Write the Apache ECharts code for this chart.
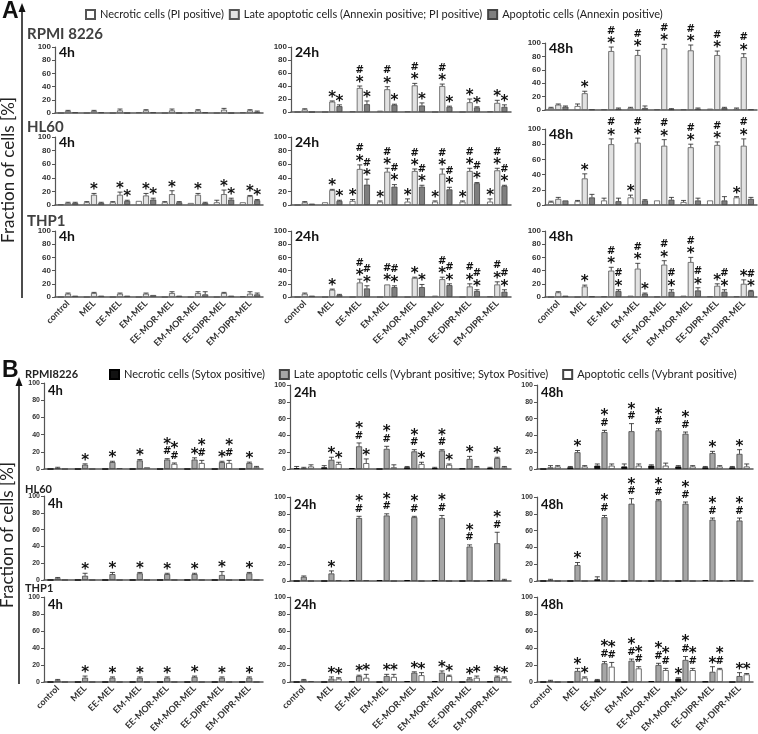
<!DOCTYPE html>
<html>
<head>
<meta charset="utf-8">
<script src="https://cdn.jsdelivr.net/npm/echarts@6/dist/echarts.min.js"></script>
<style>
html, body { margin: 0; padding: 0; background: #fff; }
#chart { width: 758px; height: 734px; }
</style>
</head>
<body>
<div id="chart"></div>
<script>
var categories = ['control', 'MEL', 'EE-MEL', 'EM-MEL', 'EE-MOR-MEL', 'EM-MOR-MEL', 'EE-DIPR-MEL', 'EM-DIPR-MEL'];
var times = ['4h', '24h', '48h'];
var cellLinesA = ['RPMI 8226', 'HL60', 'THP1'];
var cellLinesB = ['RPMI8226', 'HL60', 'THP1'];
var namesA = ['Necrotic cells (PI positive)', 'Late apoptotic cells (Annexin positive; PI positive)', 'Apoptotic cells (Annexin positive)'];
var namesB = ['Necrotic cells (Sytox positive)', 'Late apoptotic cells (Vybrant positive; Sytox Positive)', 'Apoptotic cells (Vybrant positive)'];
var ZERO = [0, 0, 0, 0, 0, 0, 0, 0];
var NO_SIG = ['', '', '', '', '', '', '', ''];

// each panel: [necrotic, late apoptotic, apoptotic]; sig strings read top to bottom
// panel A (Annexin / PI)
var A_RPMI_4h = [[0, 0, 0, 1, 0, 1, 0, 1], [3, 3, 4, 4, 4, 4, 5, 4], [1, 1, 0, 1, 0, 1, 0, 2]];
var A_RPMI_4h_err = [ZERO, [1, 1, 2, 1, 2, 1, 2, 1], [0, 0, 0, 0, 0, 0, 0, 1]];
var A_RPMI_4h_sig = [NO_SIG, NO_SIG, NO_SIG];

var A_RPMI_24h = [[0, 0, 1, 2, 1, 0, 0, 1], [4, 16, 37, 35, 41, 40, 15, 14], [0, 9, 12, 11, 10, 8, 7, 8]];
var A_RPMI_24h_err = [ZERO, [1, 1, 3, 4, 3, 3, 5, 4], [0, 2, 5, 1, 4, 1, 1, 3]];
var A_RPMI_24h_sig = [NO_SIG, ['', '*', '#*', '#*', '#*', '#*', '*', '*'], ['', '*', '*', '*', '*', '*', '*', '*']];

var A_RPMI_48h = [[3, 6, 1, 3, 1, 1, 2, 2], [8, 25, 88, 82, 92, 89, 82, 79], [5, 1, 2, 3, 1, 2, 3, 1]];
var A_RPMI_48h_err = [[1, 3, 0, 1, 0, 0, 0, 1], [1, 3, 6, 7, 6, 8, 6, 5], [1, 0, 1, 3, 1, 1, 1, 0]];
var A_RPMI_48h_sig = [NO_SIG, ['', '*', '#*', '#*', '#*', '#*', '#*', '#*'], NO_SIG];

var A_HL60_4h = [[1, 4, 4, 6, 4, 3, 4, 4], [3, 15, 15, 14, 16, 15, 16, 13], [3, 3, 6, 8, 4, 3, 8, 7]];
var A_HL60_4h_err = [[0, 1, 1, 0, 1, 0, 3, 0], [1, 2, 4, 3, 5, 2, 6, 1], [1, 1, 1, 2, 1, 1, 2, 1]];
var A_HL60_4h_sig = [NO_SIG, ['', '*', '*', '*', '*', '*', '*', '*'], ['', '', '*', '*', '', '', '*', '*']];

var A_HL60_24h = [[0, 4, 6, 5, 5, 5, 5, 5], [4, 22, 53, 49, 50, 46, 50, 51], [2, 6, 30, 27, 27, 23, 32, 28]];
var A_HL60_24h_err = [[0, 0, 2, 1, 4, 1, 1, 4], [1, 1, 6, 5, 3, 7, 4, 3], [0, 1, 8, 3, 2, 3, 1, 1]];
var A_HL60_24h_sig = [['', '', '*', '*', '*', '*', '*', '*'], ['', '*', '#*', '#*', '#*', '#*', '#*', '#*'], ['', '*', '#*', '#*', '#*', '#*', '#*', '#*']];

var A_HL60_48h = [[4, 5, 6, 10, 6, 4, 6, 10], [8, 35, 80, 82, 78, 76, 79, 78], [6, 10, 5, 6, 7, 6, 6, 8]];
var A_HL60_48h_err = [[1, 1, 3, 3, 0, 2, 0, 1], [2, 6, 7, 6, 8, 4, 4, 9], [0, 4, 4, 1, 3, 3, 5, 2]];
var A_HL60_48h_sig = [['', '', '', '*', '', '', '', '*'], ['', '*', '#*', '#*', '#*', '#*', '#*', '#*'], NO_SIG];

var A_THP1_4h = [[0, 0, 0, 0, 0, 0, 0, 1], [5, 6, 5, 5, 6, 6, 6, 5], [2, 2, 2, 3, 2, 4, 2, 4]];
var A_THP1_4h_err = [ZERO, [1, 1, 1, 1, 2, 2, 1, 3], [0, 0, 0, 0, 0, 4, 0, 2]];
var A_THP1_4h_sig = [NO_SIG, NO_SIG, NO_SIG];

var A_THP1_24h = [[0, 0, 0, 0, 0, 2, 0, 1], [5, 11, 22, 19, 29, 27, 16, 19], [2, 3, 13, 15, 15, 18, 9, 8]];
var A_THP1_24h_err = [ZERO, [1, 1, 5, 0, 1, 3, 4, 4], [0, 1, 4, 2, 4, 2, 2, 3]];
var A_THP1_24h_sig = [NO_SIG, ['', '*', '#*', '#*', '*', '#*', '#*', '#*'], ['', '', '#*', '#*', '*', '#*', '#*', '#*']];

var A_THP1_48h = [[0, 0, 1, 2, 0.5, 2, 1, 1], [7, 16, 40, 43, 49, 53, 17, 20], [2, 1, 9, 5, 8, 10, 8, 9]];
var A_THP1_48h_err = [ZERO, [1, 2, 5, 8, 6, 7, 3, 6], [0, 0, 2, 1, 3, 4, 3, 1]];
var A_THP1_48h_sig = [NO_SIG, ['', '*', '#*', '#*', '#*', '#*', '*', '*'], ['', '', '#*', '*', '#*', '#*', '#*', '#*']];

// panel B (Sytox / Vybrant)
var B_RPMI_4h = [ZERO, [1, 5, 8, 10, 11, 11, 8, 7], [0, 0, 1, 2, 6, 7, 7, 2]];
var B_RPMI_4h_err = [ZERO, [1, 1, 1, 1, 1, 2, 1, 1], [0, 0, 0, 0, 1, 3, 3, 1]];
var B_RPMI_4h_sig = [NO_SIG, ['', '*', '*', '*', '*#', '*', '*', '*'], ['', '', '', '', '*#', '*#', '*#', '']];

var B_RPMI_24h = [[1, 2, 1, 0, 2, 1, 0.5, 1], [1, 11, 27, 24, 21, 22, 12, 13], [3, 6, 7, 2, 6, 5, 2, 2]];
var B_RPMI_24h_err = [[2, 2, 0, 0, 1, 1, 0, 1], [1, 3, 4, 3, 2, 1, 3, 1], [2, 2, 5, 3, 2, 1, 1, 1]];
var B_RPMI_24h_sig = [NO_SIG, ['', '*', '*#', '*#', '*#', '*#', '*', '*'], ['', '*', '*', '', '*', '*', '', '']];

var B_RPMI_48h = [[0, 2, 4, 3, 4, 3, 2, 2], [2, 20, 44, 45, 46, 42, 19, 18], [3, 3, 4, 4, 4, 3, 3, 3]];
var B_RPMI_48h_err = [[0, 1, 2, 3, 1, 1, 1, 1], [2, 2, 2, 9, 2, 2, 2, 5], [1, 1, 2, 2, 3, 1, 1, 3]];
var B_RPMI_48h_sig = [NO_SIG, ['', '*', '*#', '*#', '*#', '*#', '*', '*'], NO_SIG];

var B_HL60_4h = [ZERO, [2, 5, 7, 8, 7, 7, 6, 8], ZERO];
var B_HL60_4h_err = [ZERO, [1, 3, 2, 1, 1, 1, 4, 1], ZERO];
var B_HL60_4h_sig = [NO_SIG, ['', '*', '*', '*', '*', '*', '*', '*'], NO_SIG];

var B_HL60_24h = [[0, 0, 1, 1, 1, 1, 0, 1], [5, 9, 75, 78, 76, 75, 41, 45], [0, 1, 1, 0, 0, 0, 0, 1]];
var B_HL60_24h_err = [ZERO, [1, 3, 2, 2, 1, 3, 2, 13], [0, 0, 0, 0, 0, 0, 0, 1]];
var B_HL60_24h_sig = [NO_SIG, ['', '*', '*#', '*#', '*#', '*#', '*#', '*#'], NO_SIG];

var B_HL60_48h = [[0, 0, 2, 0, 0, 0, 1, 1], [1, 19, 76, 92, 96, 92, 73, 72], ZERO];
var B_HL60_48h_err = [[0, 0, 3, 0, 0, 0, 0, 0], [1, 3, 2, 6, 1, 2, 2, 3], ZERO];
var B_HL60_48h_sig = [NO_SIG, ['', '*', '*#', '*#', '*#', '*#', '*#', '*#'], NO_SIG];

var B_THP1_4h = [ZERO, [2, 5, 5, 5, 5, 6, 5, 5], ZERO];
var B_THP1_4h_err = [ZERO, [1, 2, 1, 1, 1, 1, 1, 1], ZERO];
var B_THP1_4h_sig = [NO_SIG, ['', '*', '*', '*', '*', '*', '*', '*'], NO_SIG];

var B_THP1_24h = [[0, 0, 0.5, 0, 1, 1, 0, 0.5], [2, 4, 7, 7, 11, 11, 4, 6], [1, 4, 5, 6, 8, 7, 5, 5]];
var B_THP1_24h_err = [ZERO, [1, 2, 1, 2, 1, 2, 1, 1], [0, 1, 4, 3, 3, 1, 2, 1]];
var B_THP1_24h_sig = [NO_SIG, ['', '*', '*', '*', '*', '*', '*', '*'], ['', '*', '*', '*', '*', '*', '*', '*']];

var B_THP1_48h = [[0, 0, 2, 0, 1, 4, 0.5, 0], [1, 13, 22, 25, 20, 26, 12, 7], [0, 5, 18, 16, 14, 14, 15, 9]];
var B_THP1_48h_err = [[0, 0, 1, 0, 0, 1, 0, 0], [1, 3, 2, 2, 2, 4, 6, 4], [0, 1, 5, 2, 2, 2, 1, 1]];
var B_THP1_48h_sig = [['', '', '', '', '', '*', '', ''], ['', '*', '*#', '*#', '*#', '*#', '*', '*'], ['', '*', '*#', '*#', '*#', '*#', '*#', '*']];

var panelsA = [
    [[A_RPMI_4h, A_RPMI_4h_err, A_RPMI_4h_sig], [A_RPMI_24h, A_RPMI_24h_err, A_RPMI_24h_sig], [A_RPMI_48h, A_RPMI_48h_err, A_RPMI_48h_sig]],
    [[A_HL60_4h, A_HL60_4h_err, A_HL60_4h_sig], [A_HL60_24h, A_HL60_24h_err, A_HL60_24h_sig], [A_HL60_48h, A_HL60_48h_err, A_HL60_48h_sig]],
    [[A_THP1_4h, A_THP1_4h_err, A_THP1_4h_sig], [A_THP1_24h, A_THP1_24h_err, A_THP1_24h_sig], [A_THP1_48h, A_THP1_48h_err, A_THP1_48h_sig]]
];
var panelsB = [
    [[B_RPMI_4h, B_RPMI_4h_err, B_RPMI_4h_sig], [B_RPMI_24h, B_RPMI_24h_err, B_RPMI_24h_sig], [B_RPMI_48h, B_RPMI_48h_err, B_RPMI_48h_sig]],
    [[B_HL60_4h, B_HL60_4h_err, B_HL60_4h_sig], [B_HL60_24h, B_HL60_24h_err, B_HL60_24h_sig], [B_HL60_48h, B_HL60_48h_err, B_HL60_48h_sig]],
    [[B_THP1_4h, B_THP1_4h_err, B_THP1_4h_sig], [B_THP1_24h, B_THP1_24h_err, B_THP1_24h_sig], [B_THP1_48h, B_THP1_48h_err, B_THP1_48h_sig]]
];

// layout (pixels): column x-extent, row y-extent (value 100 -> value 0)
var colsA = [[55, 263], [291, 511], [545, 757]];
var rowsA = [[[47, 113], [47, 112], [43, 110]], [[137, 205], [137, 205], [129, 205]], [[231, 297], [231, 297], [231, 297]]];
var colsB = [[44, 263], [290, 511], [537, 753]];
var rowsB = [[[383, 469], [385, 469], [385, 469]], [[496, 580], [497, 581], [497, 581]], [[597, 682], [597, 682], [597, 682]]];

var stylesA = [
    { color: '#ffffff', borderColor: '#555', borderWidth: 0.8 },
    { color: '#e2e2e2', borderColor: '#555', borderWidth: 0.8 },
    { color: '#7f7f7f', borderColor: '#444', borderWidth: 0.8 }
];
var stylesB = [
    { color: '#111111', borderColor: '#000', borderWidth: 0.8 },
    { color: '#a6a6a6', borderColor: '#444', borderWidth: 0.8 },
    { color: '#ffffff', borderColor: '#444', borderWidth: 0.8 }
];

var BAR_W = 6;
var BAR_STEP = BAR_W * 1.2;

var grids = [], xAxes = [], yAxes = [], series = [], graphics = [];

function errRenderer(shift, sig) {
    return function (params, api) {
        var i = params.dataIndex;
        var v = api.value(1), e = api.value(2);
        var p0 = api.coord([i, v]);
        var x = p0[0] + shift * BAR_STEP;
        var yTop = api.coord([i, v + e])[1];
        var kids = [];
        if (e > 0) {
            kids.push({ type: 'line', shape: { x1: x, y1: p0[1], x2: x, y2: yTop }, style: { stroke: '#222', lineWidth: 0.8 } });
            kids.push({ type: 'line', shape: { x1: x - 2.5, y1: yTop, x2: x + 2.5, y2: yTop }, style: { stroke: '#222', lineWidth: 0.8 } });
        }
        var marks = (sig[i] || '').split('');
        var y = yTop - 2;
        for (var m = marks.length - 1; m >= 0; m--) {
            var star = marks[m] === '*';
            var h = star ? 8 : 10;
            kids.push({
                type: 'text', x: x, y: y - h / 2 + (star ? 3 : 0),
                style: {
                    text: marks[m], fill: '#111', textAlign: 'center', textVerticalAlign: 'middle',
                    font: star ? 'bold 15px "DejaVu Sans"' : 'bold 10px "DejaVu Sans"'
                }
            });
            y -= h + 1;
        }
        return { type: 'group', children: kids };
    };
}

function addPanel(panel, box, styles, names, showLabels, tickSize) {
    var gi = grids.length;
    grids.push({ left: box[0], top: box[2], width: box[1] - box[0], height: box[3] - box[2], outerBoundsMode: 'none' });
    xAxes.push({
        type: 'category', gridIndex: gi, data: categories,
        axisLine: { lineStyle: { color: '#555', width: 1.5 } },
        axisTick: { show: false },
        axisLabel: {
            show: showLabels, interval: 0, rotate: 45, margin: 5,
            fontFamily: 'Lato', fontSize: 9, fontWeight: 'bold', color: '#333'
        }
    });
    yAxes.push({
        type: 'value', gridIndex: gi, min: 0, max: 100, interval: 20,
        splitLine: { show: false },
        axisLine: { show: true, lineStyle: { color: '#555', width: 1.2 } },
        axisTick: { show: true, length: 3, lineStyle: { color: '#555' } },
        axisLabel: { fontSize: tickSize, fontWeight: 'bold', color: '#333', margin: 4, fontFamily: 'Liberation Sans' }
    });
    for (var k = 0; k < 3; k++) {
        series.push({
            type: 'bar', name: names[k], xAxisIndex: gi, yAxisIndex: gi,
            data: panel[0][k], barWidth: BAR_W, barGap: '20%', itemStyle: styles[k], silent: true
        });
    }
    for (var s = 0; s < 3; s++) {
        var d = panel[0][s].map(function (v, i) { return [i, v, panel[1][s][i]]; });
        series.push({
            type: 'custom', xAxisIndex: gi, yAxisIndex: gi, data: d, z: 5, silent: true,
            encode: { x: 0, y: 1 }, renderItem: errRenderer(s - 1, panel[2][s])
        });
    }
}

function txt(x, y, text, font, extra) {
    var st = { text: text, font: font, fill: '#222' };
    for (var key in extra || {}) st[key] = extra[key];
    graphics.push({ type: 'text', x: x, y: y, style: st, silent: true });
}

for (var r = 0; r < 3; r++) {
    for (var c = 0; c < 3; c++) {
        var ba = [colsA[c][0], colsA[c][1], rowsA[r][c][0], rowsA[r][c][1]];
        addPanel(panelsA[r][c], ba, stylesA, namesA, r === 2, 8);
        txt(ba[0] + 4, ba[2] - 2, times[c], 'bold 14px Lato', { fill: '#111' });
        var bb = [colsB[c][0], colsB[c][1], rowsB[r][c][0], rowsB[r][c][1]];
        addPanel(panelsB[r][c], bb, stylesB, namesB, r === 2, 7);
        txt(bb[0] + 4, bb[2] + 1, times[c], 'bold 13px Lato', { fill: '#111' });
    }
}

// row titles
txt(27, 27, cellLinesA[0], 'bold 15px Lato', { fill: '#404040' });
txt(27, 120, cellLinesA[1], 'bold 15px Lato', { fill: '#404040' });
txt(27, 214, cellLinesA[2], 'bold 15px Lato', { fill: '#404040' });
txt(25, 369, cellLinesB[0], 'bold 11px Lato', { fill: '#222' });
txt(25, 484, cellLinesB[1], 'bold 11px Lato', { fill: '#222' });
txt(25, 583, cellLinesB[2], 'bold 11px Lato', { fill: '#222' });

// panel letters
txt(2, 0, 'A', 'bold 23px "Liberation Sans"', { fill: '#111' });
txt(2, 359, 'B', 'bold 23px "Liberation Sans"', { fill: '#111' });

// shared y titles with arrows
graphics.push({ type: 'text', x: 9, y: 170, rotation: Math.PI / 2, silent: true,
    style: { text: 'Fraction of cells [%]', font: '17px Lato', fill: '#222', textAlign: 'center', textVerticalAlign: 'middle' } });
graphics.push({ type: 'text', x: 8, y: 535, rotation: Math.PI / 2, silent: true,
    style: { text: 'Fraction of cells [%]', font: '17px Lato', fill: '#222', textAlign: 'center', textVerticalAlign: 'middle' } });
graphics.push({ type: 'line', silent: true, shape: { x1: 22, y1: 298, x2: 22, y2: 10 }, style: { stroke: '#111', lineWidth: 1.5 } });
graphics.push({ type: 'polygon', silent: true, shape: { points: [[22, 3], [18.5, 12], [25.5, 12]] }, style: { fill: '#111' } });
graphics.push({ type: 'line', silent: true, shape: { x1: 19, y1: 684, x2: 19, y2: 384 }, style: { stroke: '#111', lineWidth: 1.5 } });
graphics.push({ type: 'polygon', silent: true, shape: { points: [[19, 377], [15.5, 386], [22.5, 386]] }, style: { fill: '#111' } });

var option = {
    animation: false,
    backgroundColor: '#fff',
    legend: [
        {
            left: 80, top: 4, itemGap: 5, itemWidth: 9, itemHeight: 9, icon: 'rect',
            textStyle: { fontFamily: 'Lato', fontSize: 11, color: '#222' }, data: namesA, selectedMode: false
        },
        {
            left: 104, top: 364, itemGap: 14, itemWidth: 9, itemHeight: 9, icon: 'rect',
            textStyle: { fontFamily: 'Lato', fontSize: 11, color: '#222' }, data: namesB, selectedMode: false
        }
    ],
    grid: grids,
    xAxis: xAxes,
    yAxis: yAxes,
    series: series,
    graphic: graphics
};

var chart = echarts.init(document.getElementById('chart'));
chart.setOption(option);
</script>
</body>
</html>
